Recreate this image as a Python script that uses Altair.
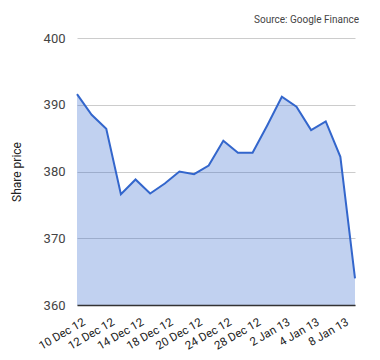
import altair as alt
import pandas as pd

dates = ["10 Dec 12", "11 Dec 12", "12 Dec 12", "13 Dec 12", "14 Dec 12",
         "17 Dec 12", "18 Dec 12", "19 Dec 12", "20 Dec 12", "21 Dec 12",
         "24 Dec 12", "27 Dec 12", "28 Dec 12", "31 Dec 12", "2 Jan 13",
         "3 Jan 13", "4 Jan 13", "7 Jan 13", "8 Jan 13", "9 Jan 13"]
prices = [391.6, 388.5, 386.4, 376.6, 378.8, 376.7, 378.2, 380.0, 379.6, 380.9,
          384.6, 382.8, 382.8, 386.9, 391.2, 389.7, 386.2, 387.5, 382.2, 364.0]
tick_labels = dates[::2]
y_ticks = [360, 370, 380, 390, 400]

df = pd.DataFrame({"date": dates, "price": prices})

x = alt.X("date:O", sort=dates,
          scale=alt.Scale(type="point", padding=0),
          axis=alt.Axis(title=None, values=tick_labels, labelAngle=-30,
                        labelAlign="right", labelBaseline="top",
                        labelFont="Roboto", labelFontSize=11.5, labelColor="#222",
                        ticks=False, domainColor="#333", domainWidth=1.5,
                        labelPadding=11, labelOffset=4, grid=False, zindex=1,
                        labelOverlap=False))
y = alt.Y("price:Q",
          scale=alt.Scale(domain=[360, 400], nice=False, zero=False),
          axis=alt.Axis(title="Share price", values=y_ticks, ticks=False, domain=False,
                        gridColor="#cccccc", labelFont="Roboto", labelFontSize=13,
                        labelColor="#444", labelPadding=12, titleFont="Roboto",
                        titleFontSize=12, titleFontWeight="normal", titleColor="#222",
                        titlePadding=20))

base = alt.Chart(df).encode(x=x, y=y)
area = base.mark_area(color="#3366cc", opacity=0.3, clip=True)
line = base.mark_line(color="#3366cc", strokeWidth=2)

chart = (area + line).properties(
    width=278, height=267,
    title=alt.TitleParams("Source: Google Finance", anchor="end", fontSize=10,
                          font="Roboto", fontWeight="normal", color="#444", offset=7),
    padding={"left": 69, "top": 30, "right": 10, "bottom": 55},
    autosize="none",
).configure_view(stroke=None)

chart.save("out.html", embed_options={"renderer": "svg", "actions": False})
